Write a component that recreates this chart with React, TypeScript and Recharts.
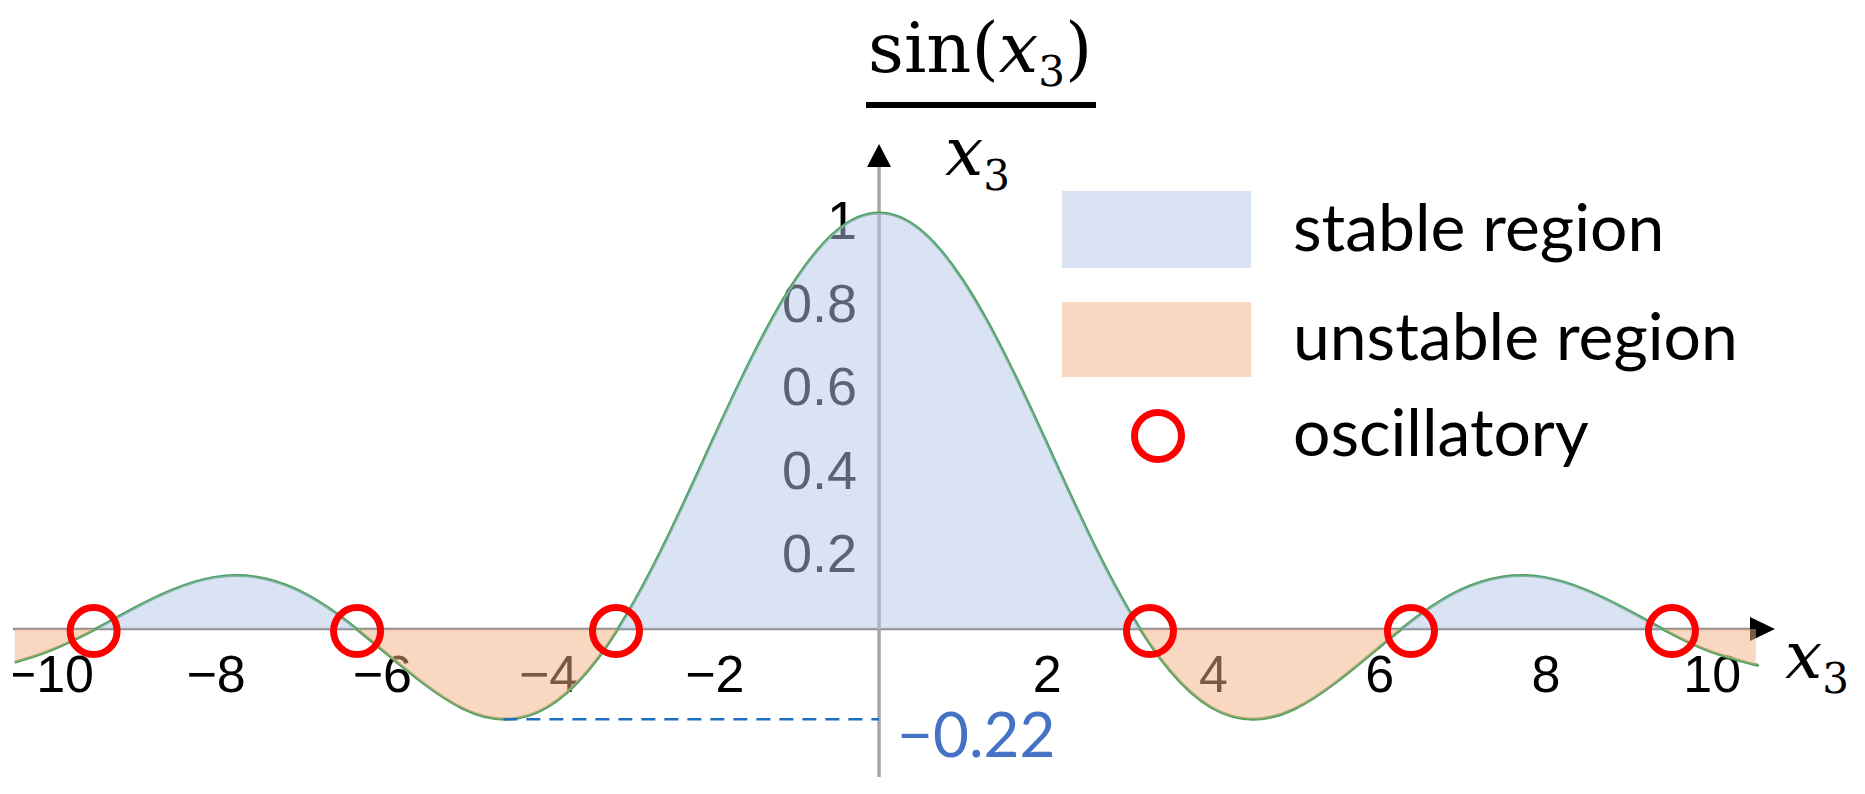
import React from "react";
import { ComposedChart, Area, Line, Scatter, XAxis, YAxis, ReferenceLine } from "recharts";

const x3 = [
  -10.4, -10, -9.5, -9, -8.5, -8, -7.5, -7, -6.5, -6, -5.5, -5, -4.5, -4, -3.5, -3, -2.5, -2, -1.5, -1, -0.5,
  0, 0.5, 1, 1.5, 2, 2.5, 3, 3.5, 4, 4.5, 5, 5.5, 6, 6.5, 7, 7.5, 8, 8.5, 9, 9.5, 10, 10.5, 10.55,
];
const sincValues = [
  -0.08, -0.054, -0.008, 0.046, 0.094, 0.124, 0.125, 0.094, 0.033, -0.047, -0.128, -0.192, -0.217, -0.189, -0.1,
  0.047, 0.239, 0.455, 0.665, 0.841, 0.959, 1, 0.959, 0.841, 0.665, 0.455, 0.239, 0.047, -0.1, -0.189, -0.217,
  -0.192, -0.128, -0.047, 0.033, 0.094, 0.125, 0.124, 0.094, 0.046, -0.008, -0.054, -0.084, -0.086,
];

const xTicks = [-10, -8, -6, -4, -2, 2, 4, 6, 8, 10];
const xTickLabels = ["\u221210", "\u22128", "\u22126", "\u22124", "\u22122", "2", "4", "6", "8", "10"];
const yTicks = [0.2, 0.4, 0.6, 0.8, 1];
const yTickLabels = ["0.2", "0.4", "0.6", "0.8", "1"];
const oscillatoryX = [-9.45, -6.28, -3.165, 3.26, 6.4, 9.54];
const oscillatoryY = -0.005;
const minX = -4.52;
const minY = -0.217;
const minLabel = "\u22120.22";

const X_DOMAIN: [number, number] = [-10.42, 10.78];
const Y_DOMAIN: [number, number] = [-0.356, 1.166];

const curve = x3.map((x, i) => ({ x, y: sincValues[i] }));
const xTickData = xTicks.map((x, i) => ({ x, y: 0, label: xTickLabels[i] }));
const yTickData = yTicks.map((y, i) => ({ x: 0, y, label: yTickLabels[i] }));
const circleData = oscillatoryX.map((x) => ({ x, y: oscillatoryY }));
const minLabelData = [{ x: 0, y: minY, label: minLabel }];

const yMax = Math.max(...sincValues);
const yMin = Math.min(...sincValues);
const zeroOffset = yMax / (yMax - yMin);

const BLUE = "#B4C7E7";
const ORANGE = "#F4B183";

const XTick = (p: any) => (
  <text x={p.cx + 2} y={p.cy + 63} textAnchor="middle" fontFamily="Liberation Sans" fontSize={52} fill="#000">
    {p.payload?.label ?? p.label}
  </text>
);

const YTick = (p: any) => (
  <text x={p.cx - 22} y={p.cy + 26} textAnchor="end" fontFamily="Liberation Sans" fontSize={54} fill="#000">
    {p.payload?.label ?? p.label}
  </text>
);

const MinText = (p: any) => (
  <text x={p.cx + 18} y={p.cy + 38} fontFamily="Lato" fontSize={62} fill="#4472C4">
    {p.payload?.label ?? p.label}
  </text>
);

const Ring = (p: any) => <circle cx={p.cx} cy={p.cy} r={23.5} fill="none" stroke="#FF0000" strokeWidth={7} />;

const HorizontalAxis = (p: any) => {
  const xa = Math.min(p.x1, p.x2);
  const xb = Math.max(p.x1, p.x2);
  const y = p.y1;
  return (
    <g>
      <line x1={xa} y1={y} x2={xb - 22} y2={y} stroke="#8E8E8E" strokeWidth={2.5} />
      <polygon points={`${xb},${y} ${xb - 25},${y - 12} ${xb - 25},${y + 12}`} fill="#000" />
    </g>
  );
};

const VerticalAxis = (p: any) => {
  const top = Math.min(p.y1, p.y2);
  const bottom = Math.max(p.y1, p.y2);
  const x = p.x1;
  return (
    <g>
      <line x1={x} y1={bottom} x2={x} y2={top + 20} stroke="#A6A6A6" strokeWidth={3.5} />
      <polygon points={`${x},${top} ${x - 12},${top + 23} ${x + 12},${top + 23}`} fill="#000" />
    </g>
  );
};

function Overlay() {
  const serif = "DejaVu Serif";
  return (
    <svg width={1865} height={794} style={{ position: "absolute", left: 0, top: 0, pointerEvents: "none" }}>
      {/* axis title: sin(x3) / x3 */}
      <text x={868} y={72} fontFamily={serif} fontSize={70} fill="#000">
        sin(
        <tspan fontStyle="italic">x</tspan>
        <tspan fontSize={42} dy={14}>3</tspan>
        <tspan dy={-14}>)</tspan>
      </text>
      <rect x={866} y={102} width={230} height={6} fill="#000" />
      <text x={945} y={175} fontFamily={serif} fontSize={68} fill="#000">
        <tspan fontStyle="italic">x</tspan>
        <tspan fontSize={42} dy={15}>3</tspan>
      </text>
      <text x={1785} y={678} fontFamily={serif} fontSize={66} fill="#000">
        <tspan fontStyle="italic">x</tspan>
        <tspan fontSize={42} dy={15}>3</tspan>
      </text>

      {/* legend */}
      <rect x={1062} y={191} width={189} height={77} fill={BLUE} fillOpacity={0.5} />
      <rect x={1062} y={302} width={189} height={75} fill={ORANGE} fillOpacity={0.5} />
      <circle cx={1158} cy={436} r={23.5} fill="none" stroke="#FF0000" strokeWidth={7} />
      <g fontFamily="Lato" fontSize={66} fill="#000">
        <text x={1293} y={251}>stable region</text>
        <text x={1293} y={360}>unstable region</text>
        <text x={1293} y={456}>oscillatory</text>
      </g>
    </svg>
  );
}

export default function App() {
  return (
    <div style={{ position: "absolute", left: 0, top: 0, width: 1865, height: 794, background: "#fff" }}>
      <ComposedChart width={1865} height={794} data={curve} margin={{ top: 144, right: 90, bottom: 17, left: 13 }}>
        <defs>
          <linearGradient id="splitFill" x1="0" y1="0" x2="0" y2="1">
            <stop offset={0} stopColor={BLUE} stopOpacity={0.5} />
            <stop offset={zeroOffset} stopColor={BLUE} stopOpacity={0.5} />
            <stop offset={zeroOffset} stopColor={ORANGE} stopOpacity={0.5} />
            <stop offset={1} stopColor={ORANGE} stopOpacity={0.5} />
          </linearGradient>
        </defs>
        <XAxis hide type="number" dataKey="x" domain={X_DOMAIN} allowDataOverflow />
        <YAxis hide type="number" dataKey="y" domain={Y_DOMAIN} allowDataOverflow />

        <ReferenceLine y={0} shape={HorizontalAxis} zIndex={1} />
        <ReferenceLine x={0} shape={VerticalAxis} zIndex={1} />

        <Scatter data={xTickData} dataKey="y" shape={XTick} isAnimationActive={false} zIndex={2} />
        <Scatter data={yTickData} dataKey="y" shape={YTick} isAnimationActive={false} zIndex={2} />

        <Line
          type="natural"
          dataKey="y"
          stroke="#4FA060"
          strokeWidth={3}
          dot={false}
          activeDot={false}
          isAnimationActive={false}
          zIndex={3}
        />
        <Area
          type="natural"
          dataKey="y"
          baseValue={0}
          stroke="none"
          fill="url(#splitFill)"
          fillOpacity={1}
          isAnimationActive={false}
          zIndex={4}
        />

        <ReferenceLine
          segment={[
            { x: minX, y: minY },
            { x: 0, y: minY },
          ]}
          stroke="#1F6FC0"
          strokeWidth={2.5}
          strokeDasharray="14 9"
          zIndex={5}
        />
        <Scatter data={minLabelData} dataKey="y" shape={MinText} isAnimationActive={false} zIndex={6} />
        <Scatter data={circleData} dataKey="y" shape={Ring} isAnimationActive={false} zIndex={7} />
      </ComposedChart>
      <Overlay />
    </div>
  );
}
